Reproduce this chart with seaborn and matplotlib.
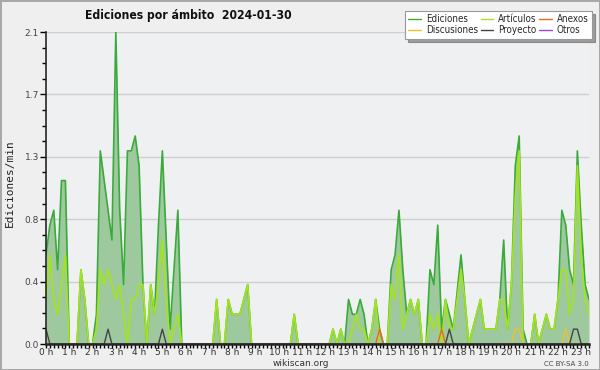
import numpy as np
import pandas as pd
import matplotlib
matplotlib.use("Agg")
import matplotlib.pyplot as plt
import seaborn as sns
from matplotlib.ticker import FixedLocator, MultipleLocator
from matplotlib.font_manager import FontProperties

# ---- data: edits per minute, one value per 10-minute slot (00:00 .. 23:20) ----
ediciones = [
    0.6, 0.8, 0.9, 0.5, 1.1, 1.1, 0, 0, 0, 0.5, 0.3, 0,
    0, 0.2, 1.3, 1.1, 0.9, 0.7, 2.1, 0.9, 0.4, 1.3, 1.3, 1.4,
    1.2, 0.4, 0, 0.4, 0.2, 0.8, 1.3, 0.7, 0.1, 0.5, 0.9, 0,
    0, 0, 0, 0, 0, 0, 0, 0, 0.3, 0, 0, 0.3,
    0.2, 0.2, 0.2, 0.3, 0.4, 0, 0, 0, 0, 0, 0, 0,
    0, 0, 0, 0, 0.2, 0, 0, 0, 0, 0, 0, 0,
    0, 0, 0.1, 0, 0.1, 0, 0.3, 0.2, 0.2, 0.3, 0.2, 0,
    0.1, 0.3, 0.1, 0, 0, 0.5, 0.6, 0.9, 0.5, 0.2, 0.3, 0.2,
    0.3, 0, 0, 0.5, 0.4, 0.8, 0.1, 0.3, 0.2, 0.1, 0.35, 0.6,
    0.3, 0, 0.1, 0.2, 0.3, 0.1, 0.1, 0.1, 0.1, 0.3, 0.7, 0.1,
    0.4, 1.2, 1.4, 0.1, 0, 0, 0.2, 0, 0.1, 0.2, 0.1, 0.1,
    0.3, 0.9, 0.8, 0.5, 0.4, 1.3, 0.8, 0.4, 0.3,
]
articulos = [
    0.3, 0.6, 0.3, 0.2, 0.4, 0.6, 0, 0, 0, 0.5, 0.3, 0,
    0, 0.1, 0.5, 0.4, 0.5, 0.4, 0.3, 0.4, 0.2, 0, 0.3, 0.3,
    0.4, 0.4, 0, 0.4, 0.2, 0.4, 0.7, 0.3, 0, 0.1, 0.2, 0,
    0, 0, 0, 0, 0, 0, 0, 0, 0.3, 0, 0, 0.3,
    0.2, 0.2, 0.2, 0.3, 0.4, 0, 0, 0, 0, 0, 0, 0,
    0, 0, 0, 0, 0.2, 0, 0, 0, 0, 0, 0, 0,
    0, 0, 0.1, 0, 0.1, 0, 0, 0.1, 0.2, 0.1, 0.1, 0,
    0.1, 0.3, 0, 0, 0, 0.4, 0.3, 0.6, 0.1, 0.2, 0.3, 0.2,
    0.3, 0, 0, 0.2, 0.1, 0.2, 0, 0.3, 0.1, 0.1, 0.3, 0.5,
    0.3, 0, 0.1, 0.2, 0.3, 0.1, 0.1, 0.1, 0.1, 0.3, 0.3, 0.1,
    0.4, 1.0, 1.3, 0, 0, 0, 0.2, 0, 0.1, 0.2, 0.1, 0.1,
    0.3, 0.5, 0.5, 0.2, 0.3, 1.2, 0.6, 0.3, 0.2,
]
anexos = [
    0, 0, 0, 0, 0, 0, 0, 0, 0, 0, 0, 0,
    0, 0, 0, 0, 0, 0, 0, 0, 0, 0, 0, 0,
    0, 0, 0, 0, 0, 0, 0, 0, 0, 0, 0, 0,
    0, 0, 0, 0, 0, 0, 0, 0, 0, 0, 0, 0,
    0, 0, 0, 0, 0, 0, 0, 0, 0, 0, 0, 0,
    0, 0, 0, 0, 0, 0, 0, 0, 0, 0, 0, 0,
    0, 0, 0, 0, 0, 0, 0, 0, 0, 0, 0, 0,
    0, 0, 0.1, 0, 0, 0, 0, 0, 0, 0, 0, 0,
    0, 0, 0, 0, 0, 0, 0.1, 0, 0, 0, 0, 0,
    0, 0, 0, 0, 0, 0, 0, 0, 0, 0, 0, 0,
    0, 0, 0, 0, 0, 0, 0, 0, 0, 0, 0, 0,
    0, 0, 0, 0, 0, 0, 0, 0, 0,
]
discusiones = [
    0, 0, 0, 0, 0, 0, 0, 0, 0, 0, 0, 0,
    0, 0, 0, 0, 0, 0, 0, 0, 0, 0, 0, 0,
    0, 0, 0, 0, 0, 0, 0, 0, 0, 0, 0, 0,
    0, 0, 0, 0, 0, 0, 0, 0, 0, 0, 0, 0,
    0, 0, 0, 0, 0, 0, 0, 0, 0, 0, 0, 0,
    0, 0, 0, 0, 0, 0, 0, 0, 0, 0, 0, 0,
    0, 0, 0, 0, 0, 0, 0, 0, 0, 0, 0, 0,
    0, 0, 0, 0, 0, 0, 0, 0, 0, 0, 0, 0,
    0, 0, 0, 0, 0, 0, 0, 0, 0, 0, 0, 0,
    0, 0, 0, 0, 0, 0, 0, 0, 0, 0, 0, 0,
    0, 0.1, 0.1, 0, 0, 0, 0, 0, 0, 0, 0, 0,
    0, 0, 0.1, 0, 0, 0, 0, 0, 0,
]
proyecto = [
    0.1, 0, 0, 0, 0, 0, 0, 0, 0, 0, 0, 0,
    0, 0, 0, 0, 0.1, 0, 0, 0, 0, 0, 0, 0,
    0, 0, 0, 0, 0, 0, 0.1, 0, 0, 0, 0, 0,
    0, 0, 0, 0, 0, 0, 0, 0, 0, 0, 0, 0,
    0, 0, 0, 0, 0, 0, 0, 0, 0, 0, 0, 0,
    0, 0, 0, 0, 0, 0, 0, 0, 0, 0, 0, 0,
    0, 0, 0, 0, 0, 0, 0, 0, 0, 0, 0, 0,
    0, 0, 0, 0, 0, 0, 0, 0, 0, 0, 0, 0,
    0, 0, 0, 0, 0, 0, 0, 0, 0.1, 0, 0, 0,
    0, 0, 0, 0, 0, 0, 0, 0, 0, 0, 0, 0,
    0, 0, 0, 0, 0, 0, 0, 0, 0, 0, 0, 0,
    0, 0, 0, 0, 0.1, 0.1, 0, 0, 0,
]
otros = [0] * 141

series_names = ["Ediciones", "Artículos", "Anexos", "Discusiones", "Proyecto", "Otros"]
hour_labels = [f"{h} h" for h in range(24)]
ytick_values = [0.0, 0.42, 0.84, 1.26, 1.68, 2.1]
ytick_labels = ["0.0", "0.4", "0.8", "1.3", "1.7", "2.1"]
title_text = "Ediciones por ámbito  2024-01-30"

# ---- build table ----
slot_hours = np.arange(len(ediciones)) / 6.0
df = pd.DataFrame({
    "hora": slot_hours,
    "Ediciones": ediciones,
    "Artículos": articulos,
    "Anexos": anexos,
    "Discusiones": discusiones,
    "Proyecto": proyecto,
    "Otros": otros,
})

colors = {
    "Ediciones": "#3aaa3a",
    "Artículos": "#a4e41c",
    "Anexos": "#ee6622",
    "Discusiones": "#f0c030",
    "Proyecto": "#444444",
    "Otros": "#9944ee",
}

sns.set_style("ticks")
plt.rcParams["font.family"] = ["DejaVu Sans"]

fig = plt.figure(figsize=(6, 3.7), dpi=100, facecolor="#efefef",
                 edgecolor="#a8a8a8", linewidth=2)
ax = fig.add_axes([46 / 600, 1 - 344 / 370, (589 - 46) / 600, (344 - 32) / 370])
ax.set_facecolor("#eef0f2")

ax.fill_between(df["hora"], 0, df["Ediciones"], color="#9ec99e", lw=0, zorder=1)

handles = []
for i, name in enumerate(series_names):
    lw = 1.2 if name in ("Ediciones", "Artículos") else 1.0
    sns.lineplot(data=df, x="hora", y=name, ax=ax, color=colors[name], lw=lw,
                 zorder=2 + i * 0.01, legend=False)
    handles.append(plt.Line2D([], [], color=colors[name], lw=1.0, label=name))

ax.set_xlim(0, slot_hours[-1])
ax.set_ylim(0, 2.1)
ax.set_xlabel("")
ax.set_ylabel("")

ax.xaxis.set_major_locator(FixedLocator(list(range(24))))
ax.set_xticklabels(hour_labels)
ax.xaxis.set_minor_locator(MultipleLocator(1 / 6))
ax.yaxis.set_major_locator(FixedLocator(ytick_values))
ax.set_yticklabels(ytick_labels)
ax.yaxis.set_minor_locator(MultipleLocator(0.105))

ax.tick_params(axis="x", which="major", length=2.6, width=1, color="black",
               labelsize=6.5, pad=0.2, labelcolor="#333333")
ax.tick_params(axis="x", which="minor", length=2.6, width=1, color="black")
ax.tick_params(axis="y", which="major", length=4.5, width=1, color="black",
               labelsize=6.5, pad=0.5, labelcolor="#444444")
ax.tick_params(axis="y", which="minor", length=3.0, width=1, color="black")

ax.yaxis.grid(True, color="#cfcfcf", lw=1)
ax.set_axisbelow(True)
for side in ("top", "right"):
    ax.spines[side].set_visible(False)
ax.spines["left"].set_linewidth(1.2)
ax.spines["bottom"].set_linewidth(1.8)
ax.spines["left"].set_zorder(5)
ax.spines["bottom"].set_zorder(5)

title_fp = FontProperties(family="DejaVu Sans", weight="bold", stretch="condensed", size=8.7)
fig.text(85 / 600, 1 - 15 / 370, title_text, ha="left", va="center",
         fontproperties=title_fp, color="#111111")
fig.text(10 / 600, 1 - 183 / 370, "Ediciones/min", rotation=90, ha="center",
         va="center", fontsize=8, family=["DejaVu Sans Mono"], color="#222222")
fig.text(301 / 600, 1 - 363.5 / 370, "wikiscan.org", ha="center", va="center",
         fontsize=6.5, color="#333333")
fig.text(589 / 600, 1 - 364 / 370, "CC BY-SA 3.0", ha="right", va="center",
         fontsize=5, color="#444444")

leg_fp = FontProperties(family="DejaVu Sans", stretch="condensed", size=7)
leg = fig.legend(handles=[handles[0], handles[3], handles[1], handles[4], handles[2], handles[5]],
                 loc="upper right", bbox_to_anchor=(592 / 600, 1 - 11 / 370), ncol=3,
                 prop=leg_fp, frameon=True, fancybox=False, shadow=True,
                 handlelength=1.3, handletextpad=0.5, columnspacing=0.3,
                 labelspacing=0.1, borderpad=0.35, borderaxespad=0)
leg.get_frame().set_edgecolor("#999999")
leg.get_frame().set_facecolor("white")
leg.get_frame().set_linewidth(0.8)

fig.savefig("out.png", dpi=100, facecolor=fig.get_facecolor(),
            edgecolor=fig.get_edgecolor())
